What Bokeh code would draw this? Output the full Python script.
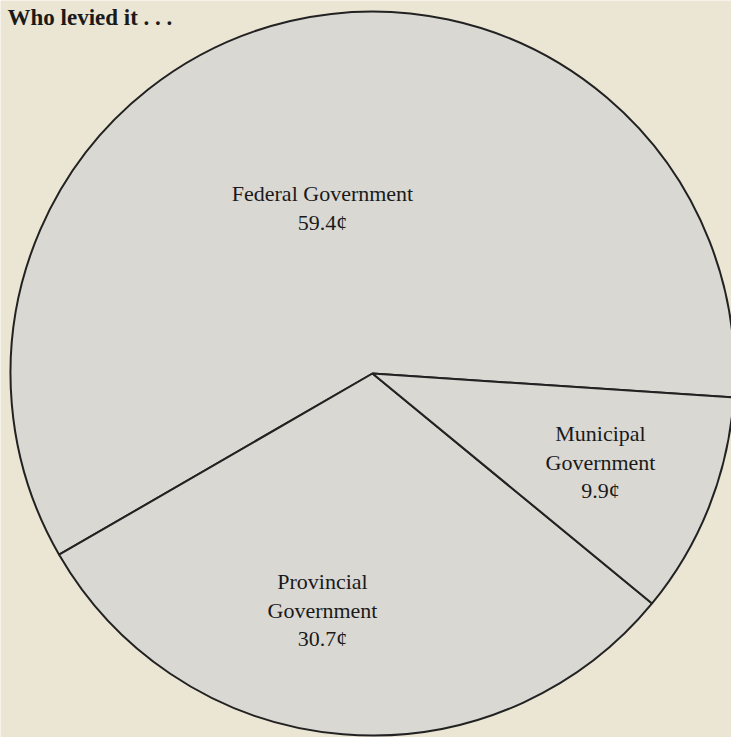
import math
from bokeh.plotting import figure
from bokeh.models import Range1d, ColumnDataSource
from bokeh.core.properties import value
from bokeh.embed import file_html
from bokeh.resources import INLINE

# data
categories = ["Federal Government", "Provincial Government", "Municipal Government"]
cents = [59.4, 30.7, 9.9]
label_lines = [["Federal Government", "59.4¢"],
               ["Provincial", "Government", "30.7¢"],
               ["Municipal", "Government", "9.9¢"]]

W, H = 731, 737
BG = "#EBE5D3"
FILL = "#DAD8D3"
INK = "#222222"

p = figure(width=W, height=H, output_backend="svg", toolbar_location=None,
           x_range=Range1d(0, W), y_range=Range1d(0, H), min_border=0)
p.axis.visible = False
p.grid.visible = False
p.outline_line_color = None
p.background_fill_color = BG
p.border_fill_color = BG

cx, cy, R = 372, H - 373, 362
total = sum(cents)
start = math.radians(-3.8)
starts, ends = [], []
a = start
for c in cents:
    starts.append(a)
    a += 2 * math.pi * c / total
    ends.append(a)

src = ColumnDataSource(dict(x=[cx] * 3, y=[cy] * 3, s=starts, e=ends, cat=categories))
p.wedge(x="x", y="y", radius=R, start_angle="s", end_angle="e", source=src,
        fill_color=FILL, line_color=INK, line_width=2, direction="anticlock")

# labels (positions are layout)
label_pos = [(322, [193, 222]), (322, [581, 610, 638]), (600, [433, 462, 490])]
for (lx, ys), lines in zip(label_pos, label_lines):
    p.text(x=[lx] * len(lines), y=[H - yy for yy in ys], text=lines,
           text_align="center", text_baseline="middle",
           text_font=value("Liberation Serif"), text_font_size="22px",
           text_color="#1a1a1a")

p.text(x=[7], y=[H - 17], text=["Who levied it . . ."], text_align="left",
       text_baseline="middle", text_font=value("Liberation Serif"),
       text_font_size="23px", text_font_style="bold", text_color="#1a1a1a")

open("out.html", "w").write(file_html(p, INLINE))
